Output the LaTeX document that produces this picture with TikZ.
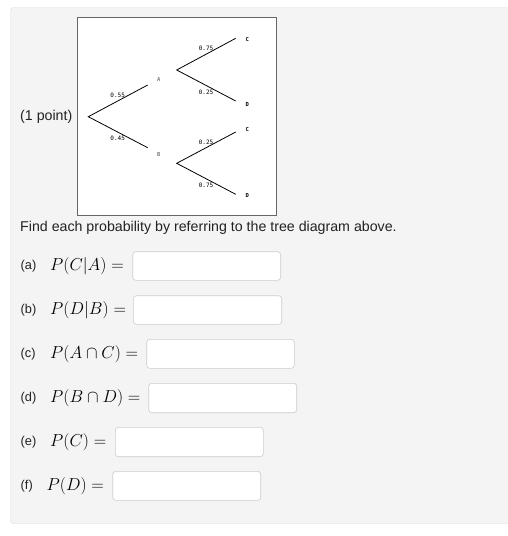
\documentclass[tikz,border=0pt]{standalone}
\usepackage{fontspec}
\setmainfont{Liberation Sans}
\setmonofont{DejaVu Sans Mono}
\definecolor{panelbg}{HTML}{F4F4F4}
\definecolor{panelline}{HTML}{DDDDDD}
\definecolor{fieldline}{HTML}{CCCCCC}
\definecolor{txt}{HTML}{222222}
\begin{document}
\begin{tikzpicture}[x=1pt,y=-1pt,
  branch/.style={line width=0.8pt},
  prob/.style={font=\ttfamily\fontsize{6}{6}\selectfont, inner sep=0pt},
  leaf/.style={font=\ttfamily\bfseries\fontsize{5.5}{6}\selectfont, inner sep=0pt},
  mid/.style={font=\ttfamily\bfseries\fontsize{5.5}{6}\selectfont, inner sep=0pt, text=gray},
  lbl/.style={font=\fontsize{14.2}{17}\selectfont, text=txt, inner sep=0pt, anchor=west},
  qlbl/.style={font=\fontsize{12.8}{15}\selectfont, text=txt, inner sep=0pt, anchor=west},
  mth/.style={font=\fontsize{16.8}{19}\selectfont, inner sep=0pt, anchor=west},
  field/.style={draw=fieldline, fill=white, rounded corners=3pt, line width=0.6pt}]
\useasboundingbox (0,0) rectangle (508,536);
\fill[white] (0,0) rectangle (508,536);
% panel
\draw[panelline, fill=panelbg, rounded corners=3pt] (10.5,7.5) rectangle (515,523.5);
% tree box
\draw[fill=white, line width=0.7pt, draw=gray!80!black] (77.5,17.5) rectangle (276.5,215.5);
\node[lbl] (pt) at (20,116.5) {(1 point)};
% tree points
\coordinate (r) at (88.3,116.7);
\coordinate (ae) at (147.7,85);
\coordinate (be) at (147.7,147.7);
\coordinate (af) at (176.7,70);
\coordinate (bf) at (176.7,163.3);
\coordinate (ac) at (235.7,38.3);
\coordinate (ad) at (235.7,101);
\coordinate (bc) at (235.7,132);
\coordinate (bd) at (235.7,194.3);
\draw[branch] (ae) -- (r) -- (be);
\draw[branch] (ac) -- (af) -- (ad);
\draw[branch] (bc) -- (bf) -- (bd);
\node[mid] (A) at (158.7,79.3) {A};
\node[mid] (B) at (158.7,154.3) {B};
\node[leaf] (C1) at (247.3,39) {C};
\node[leaf] (D1) at (247.3,104.3) {D};
\node[leaf] (C2) at (247.3,129) {C};
\node[leaf] (D2) at (247.3,195) {D};
\node[prob] (p1) at (117.7,95.7) {0.55};
\node[prob] (p2) at (117.7,138.7) {0.45};
\node[prob] (p3) at (206,48.3) {0.75};
\node[prob] (p4) at (206,92.3) {0.25};
\node[prob] (p5) at (206,142.3) {0.25};
\node[prob] (p6) at (206,185.7) {0.75};
\node[lbl] (find) at (20,228) {Find each probability by referring to the tree diagram above.};
% questions
\node[qlbl] (qa) at (20.5,266) {(a)};
\node[mth] (ma) at (50,266) {$P(C|A) =$};
\draw[field] (132.7,251.7) rectangle (280.7,280.3);
\node[qlbl] (qb) at (20.5,310) {(b)};
\node[mth] (mb) at (50,310) {$P(D|B) =$};
\draw[field] (133.3,295.7) rectangle (281.7,324.3);
\node[qlbl] (qc) at (20.5,354) {(c)};
\node[mth] (mc) at (50,354) {$P(A\cap C) =$};
\draw[field] (146.7,339.3) rectangle (294.3,368.3);
\node[qlbl] (qd) at (20.5,398) {(d)};
\node[mth] (md) at (50,398) {$P(B\cap D) =$};
\draw[field] (148.7,383.3) rectangle (296.7,412.7);
\node[qlbl] (qe) at (20.5,442) {(e)};
\node[mth] (me) at (50,442) {$P(C) =$};
\draw[field] (115.3,427.3) rectangle (263.3,456.7);
\node[qlbl] (qf) at (20.5,486) {(f)};
\node[mth] (mf) at (46.5,486) {$P(D) =$};
\draw[field] (112.7,471.3) rectangle (260.7,500.3);
\end{tikzpicture}
\end{document}
